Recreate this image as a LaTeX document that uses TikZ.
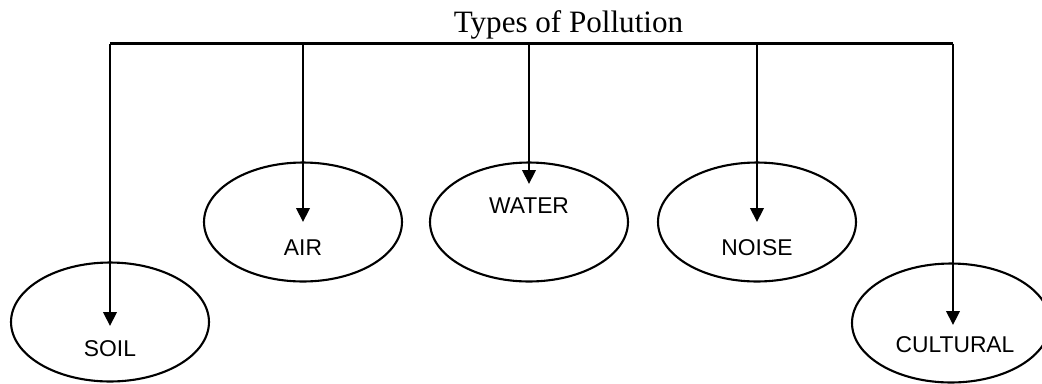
\documentclass[tikz,border=0pt]{standalone}
\usepackage{fontspec}
\setmainfont{Liberation Serif}
\newfontfamily\labfont{Liberation Sans}
\usepackage{tikz}
\usetikzlibrary{calc,arrows.meta,shapes.geometric}
\tikzset{
  bubble/.style={draw=black, line width=1.2pt, ellipse, minimum width=3.96cm, minimum height=2.38cm, inner sep=0pt},
  barline/.style={draw=black, line width=1.2pt},
  arrowline/.style={draw=black, line width=1.2pt, -{Triangle[length=0.28cm, width=0.27cm]}},
  lab/.style={anchor=base, text=black, font=\labfont\fontsize{13}{15}\selectfont},
  heading/.style={anchor=base, text=black, font=\fontsize{17.7}{20}\selectfont},
}

\begin{document}
\begin{tikzpicture}[x=0.02cm, y=-0.02cm]
\useasboundingbox (0,0) rectangle (1042,383);
% Title and bar
\node[heading] (title) at (568.5,32) {Types of Pollution};
\coordinate (bar) at (0,43.5);

% Ellipses
\node[bubble] (soil) at (110,322) {};
\node[bubble] (air) at (303,222) {};
\node[bubble] (water) at (529,222) {};
\node[bubble] (noise) at (757,222) {};
\node[bubble] (cultural) at (951,323) {};

% Labels
\node[lab] (soiltxt) at (110,356) {SOIL};
\node[lab] (airtxt) at (303,255) {AIR};
\node[lab] (watertxt) at (529,213) {WATER};
\node[lab] (noisetxt) at (757,255) {NOISE};
\node[lab] (culturaltxt) at (955,352) {CULTURAL};

% Connectors
\draw[barline] (soil |- bar) -- ($(cultural |- bar)+(2,0)$);
\draw[arrowline] (soil |- bar) -- ($(soil.center)+(0,4)$);
\draw[arrowline] (air |- bar) -- (air.center);
\draw[arrowline] (water |- bar) -- ($(water.center)+(0,-38)$);
\draw[arrowline] (noise |- bar) -- (noise.center);
\draw[arrowline] ($(cultural |- bar)+(2,0)$) -- ($(cultural.center)+(2,2)$);
\end{tikzpicture}
\end{document}
